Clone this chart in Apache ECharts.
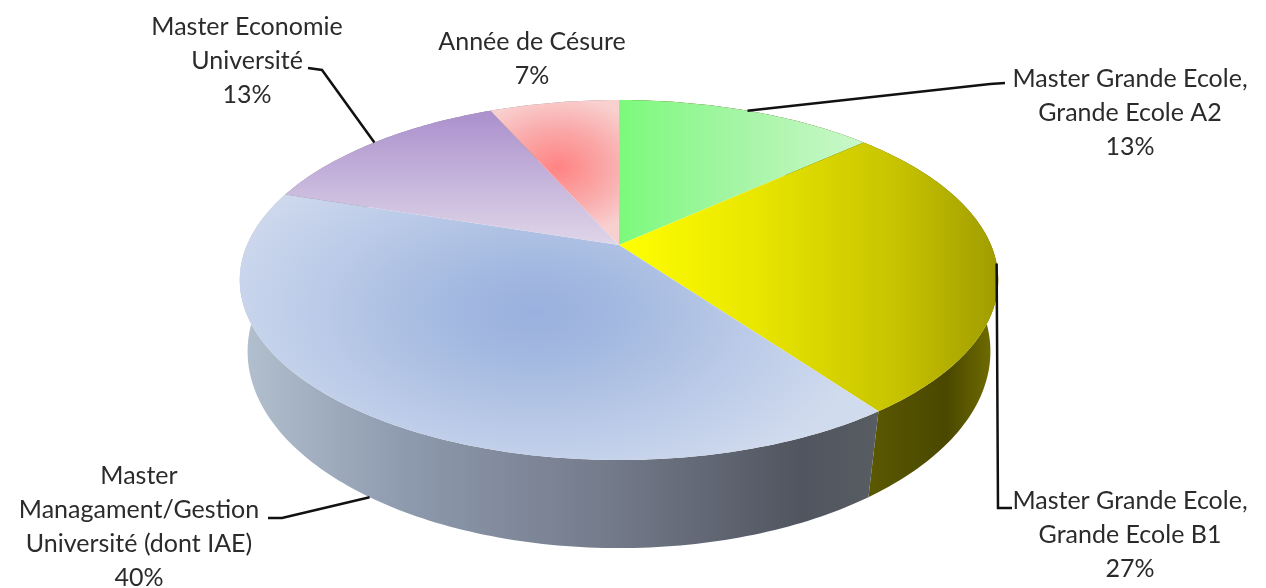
<!DOCTYPE html>
<html lang="fr">
  <head>
    <meta charset="UTF-8" />
    <title>Répartition</title>
    <style>
      html, body { margin: 0; background: #fff; overflow: hidden; }
      #chart { width: 1266px; height: 588px; }
    </style>
    <script src="https://cdn.jsdelivr.net/npm/echarts@6/dist/echarts.min.js"></script>
  </head>
  <body>
    <div id="chart"></div>
    <script>
      // data, clockwise from 12 o'clock. The labels read 13/27/40/13/7 %,
      // the slice edges fit 2/4/6/2/1 out of 15
      var categories = [
        "Master Grande Ecole,\nGrande Ecole A2",
        "Master Grande Ecole,\nGrande Ecole B1",
        "Master\nManagament/Gestion\nUniversité (dont IAE)",
        "Master Economie\nUniversité",
        "Année de Césure",
      ];
      var counts = [2, 4, 6, 2, 1];

      var total = counts.reduce(function (a, b) { return a + b; }, 0);

      // perspective discs: top centre is the apex of the slices
      var top3d = { cx: 619, cy: 245, a: 372, b: 173.2, k: 0.1945 };
      var bottom3d = { cx: 619, cy: 318, a: 366, b: 191, k: 0.17 };

      function project(disc, deg) {
        var t = (deg * Math.PI) / 180;
        var u = Math.sin(t), v = Math.cos(t);
        var d = 1 + disc.k * v;
        return [disc.cx + (disc.a * u) / d, disc.cy - (disc.b * v) / d];
      }

      function arc(disc, from, to) {
        var pts = [];
        var n = Math.max(2, Math.ceil(to - from));
        for (var i = 0; i <= n; i++) pts.push(project(disc, from + ((to - from) * i) / n));
        return pts;
      }

      function sliceAngles(i) {
        var before = 0;
        for (var j = 0; j < i; j++) before += counts[j];
        return [(before / total) * 360, ((before + counts[i]) / total) * 360];
      }

      function horiz(x0, x1, stops) {
        return { type: "linear", x: x0, y: 0, x2: x1, y2: 0, global: true, colorStops: stops };
      }
      function vert(y0, y1, stops) {
        return { type: "linear", x: 0, y: y0, x2: 0, y2: y1, global: true, colorStops: stops };
      }
      function stops(list) {
        return list.map(function (s) { return { offset: s[0], color: s[1] }; });
      }

      // top faces; "glow" is a radial fill squashed into an ellipse
      var topFills = [
        { fill: horiz(619, 865, stops([[0, "#7cfa7c"], [0.5, "#a6f5a6"], [1, "#caf8ca"]])) },
        { fill: horiz(620, 998, stops([[0, "#ffff00"], [0.37, "#e8e500"], [0.74, "#c6c200"], [1, "#a09c00"]])) },
        { glow: { x: 535, y: 312, r: 345, squash: 0.55 }, stops: stops([[0, "#9ab0df"], [0.25, "#a3b9e0"], [0.6, "#b9c9e7"], [1, "#d1dbee"]]) },
        { fill: vert(112, 245, stops([[0, "#ab90cd"], [1, "#dfd6e8"]])) },
        { glow: { x: 558, y: 167, r: 95, squash: 0.75 }, stops: stops([[0, "#ff8383"], [0.55, "#faaaaa"], [1, "#f9d0d0"]]) },
      ];
      var wallFills = [
        "#4a4800",
        horiz(870, 998, stops([[0, "#5a5800"], [0.6, "#4a4800"], [1, "#747000"]])),
        horiz(245, 878, stops([[0, "#b2bfce"], [0.25, "#8e9aae"], [0.56, "#757c8c"], [0.88, "#50555f"], [1, "#585d63"]])),
        "#888",
        "#888",
      ];

      // leader elbows and label positions
      var leaderEnds = [
        [[990, 84], [1005, 83]],
        [[998, 508], [1012, 508]],
        [[282, 518], [268, 518]],
        [[322, 70], [308, 68]],
        null,
      ];
      var labelCenters = [[1130, 62], [1130, 484], [139, 459], [247, 10], [532, 25]];
      var lineHeight = 34;

      function renderWall(params, api) {
        var i = params.dataIndex;
        var ang = sliceAngles(i);
        var pts = arc(top3d, ang[0], ang[1]).concat(arc(bottom3d, ang[0], ang[1]).reverse());
        return { type: "polygon", shape: { points: pts }, style: { fill: wallFills[i] } };
      }

      function renderTop(params, api) {
        var i = params.dataIndex;
        var ang = sliceAngles(i);
        var pts = [[top3d.cx, top3d.cy]].concat(arc(top3d, ang[0], ang[1]));
        var f = topFills[i];
        if (f.fill) return { type: "polygon", shape: { points: pts }, style: { fill: f.fill } };
        // stretch the slice, fill it with a round gradient, squash it back
        var g = f.glow;
        var stretched = pts.map(function (p) { return [p[0], g.y + (p[1] - g.y) / g.squash]; });
        return {
          type: "polygon",
          originX: g.x,
          originY: g.y,
          scaleY: g.squash,
          shape: { points: stretched },
          style: { fill: { type: "radial", x: g.x, y: g.y, r: g.r, global: true, colorStops: f.stops } },
        };
      }

      function renderLabel(params, api) {
        var i = params.dataIndex;
        var ang = sliceAngles(i);
        var mid = (ang[0] + ang[1]) / 2;
        var kids = [];
        if (leaderEnds[i]) {
          // the blue leader leaves from the bottom rim, the others from the top rim
          var start = project(i === 2 ? bottom3d : top3d, mid);
          kids.push({
            type: "polyline",
            shape: { points: [start].concat(leaderEnds[i]) },
            style: { fill: null, stroke: "#111", lineWidth: 2.5 },
          });
        }
        kids.push({
          type: "text",
          x: labelCenters[i][0],
          y: labelCenters[i][1],
          style: {
            text: categories[i] + "\n" + Math.round((api.value(0) / total) * 100) + "%",
            align: "center",
            verticalAlign: "top",
            lineHeight: lineHeight,
            fontFamily: "Lato",
            fontSize: 25,
            fill: "#2b2b2b",
          },
        });
        return { type: "group", children: kids };
      }

      var myChart = echarts.init(document.getElementById("chart"));
      myChart.setOption({
        animation: false,
        backgroundColor: "#fff",
        series: [
          { type: "custom", coordinateSystem: "none", clip: false, silent: true, z: 1, data: counts, renderItem: renderWall },
          { type: "custom", coordinateSystem: "none", clip: false, silent: true, z: 2, data: counts, renderItem: renderTop },
          { type: "custom", coordinateSystem: "none", clip: false, silent: true, z: 3, data: counts, renderItem: renderLabel },
        ],
      });
    </script>
  </body>
</html>
